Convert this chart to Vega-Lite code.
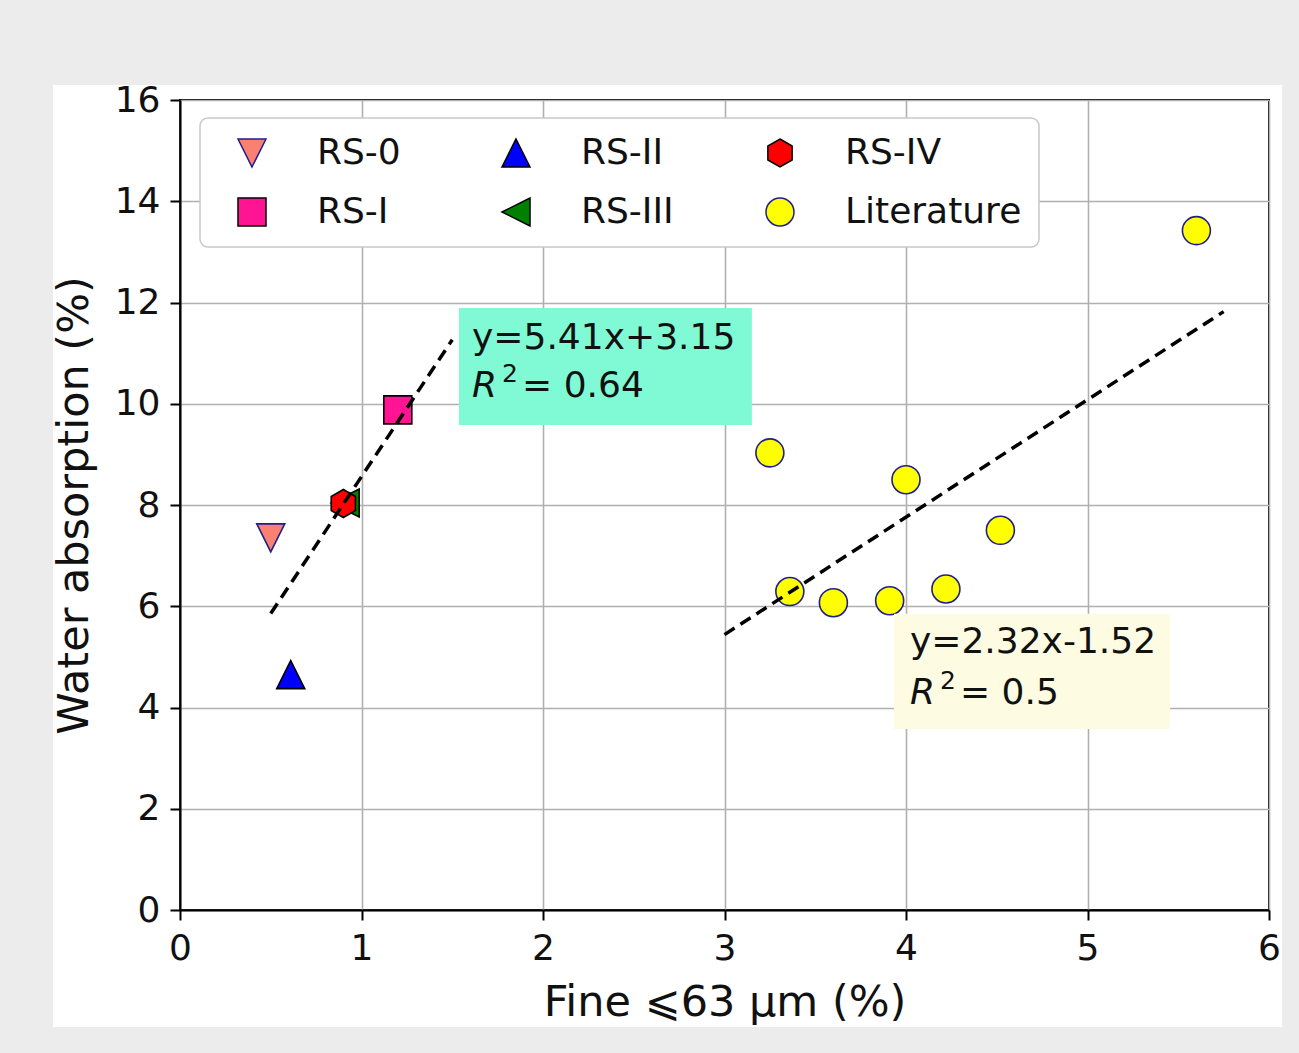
{
  "$schema": "https://vega.github.io/schema/vega-lite/v6.json",
  "width": 1089,
  "height": 810,
  "autosize": {"type": "none"},
  "padding": {"left": 180, "top": 100, "right": 30, "bottom": 143},
  "background": "white",
  "config": {
    "font": "DejaVu Sans",
    "view": {"stroke": "black", "strokeWidth": 2},
    "axis": {
      "grid": true, "gridColor": "#b0b0b0", "gridWidth": 1.6, "gridOpacity": 1,
      "domainColor": "black", "domainWidth": 2,
      "tickColor": "black", "tickWidth": 2, "tickSize": 10,
      "labelFontSize": 36, "labelColor": "#111111", "labelFlush": false,
      "titleFontSize": 43, "titleFontWeight": "normal", "titleColor": "#111111"
    },
    "axisX": {"labelPadding": 11, "titlePadding": 15},
    "axisY": {"labelPadding": 10, "titlePadding": 18},
    "legend": {
      "orient": "none", "legendX": 20, "legendY": 18,
      "columns": 3, "gridAlign": "all",
      "labelFontSize": 36, "labelColor": "#111111", "labelOffset": 47, "labelLimit": 400,
      "columnPadding": 4, "rowPadding": 23, "padding": 17,
      "fillColor": "white", "strokeColor": "#c8c8c8", "cornerRadius": 8, "strokeWidth": 1.5,
      "symbolStrokeWidth": 1.5, "symbolOpacity": 1,
      "titleOrient": "left", "titlePadding": 17, "titleFontSize": 1
    }
  },
  "datasets": {
    "points": [
      {"series": "RS-0", "x": 0.50, "y": 7.35},
      {"series": "RS-I", "x": 1.20, "y": 9.88},
      {"series": "RS-II", "x": 0.61, "y": 4.65},
      {"series": "RS-III", "x": 0.91, "y": 8.04},
      {"series": "RS-IV", "x": 0.90, "y": 8.03},
      {"series": "Literature", "x": 3.25, "y": 9.03},
      {"series": "Literature", "x": 4.00, "y": 8.50},
      {"series": "Literature", "x": 4.52, "y": 7.50},
      {"series": "Literature", "x": 3.36, "y": 6.29},
      {"series": "Literature", "x": 3.60, "y": 6.07},
      {"series": "Literature", "x": 3.91, "y": 6.11},
      {"series": "Literature", "x": 4.22, "y": 6.34},
      {"series": "Literature", "x": 5.60, "y": 13.42}
    ],
    "fits": [
      {"fit": "RS", "x": 0.5, "y": 5.855},
      {"fit": "RS", "x": 1.5, "y": 11.265},
      {"fit": "Literature", "x": 3.0, "y": 5.44},
      {"fit": "Literature", "x": 5.75, "y": 11.82}
    ],
    "frame": [{"piece": "border"}]
  },
  "layer": [
    {
      "data": {"name": "points"},
      "mark": {"type": "point", "filled": true, "opacity": 1, "strokeWidth": 1.6},
      "encoding": {
        "x": {
          "field": "x", "type": "quantitative",
          "scale": {"domain": [0, 6], "nice": false, "zero": false},
          "axis": {"values": [0, 1, 2, 3, 4, 5, 6], "format": "d", "title": "Fine ⩽63 μm (%)"}
        },
        "y": {
          "field": "y", "type": "quantitative",
          "scale": {"domain": [0, 16], "nice": false, "zero": false},
          "axis": {"values": [0, 2, 4, 6, 8, 10, 12, 14, 16], "format": "d", "title": "Water absorption (%)"}
        },
        "fill": {
          "field": "series", "type": "nominal", "title": " ",
          "scale": {
            "domain": ["RS-0", "RS-I", "RS-II", "RS-III", "RS-IV", "Literature"],
            "range": ["#fa8072", "#ff1493", "#0000ff", "#008000", "#ff0000", "#ffff00"]
          }
        },
        "stroke": {
          "field": "series", "type": "nominal", "title": " ",
          "scale": {
            "domain": ["RS-0", "RS-I", "RS-II", "RS-III", "RS-IV", "Literature"],
            "range": ["#1f1f8c", "#000000", "#000000", "#000000", "#000000", "#1f1f8c"]
          }
        },
        "shape": {
          "field": "series", "type": "nominal", "title": " ",
          "scale": {
            "domain": ["RS-0", "RS-I", "RS-II", "RS-III", "RS-IV", "Literature"],
            "range": ["M0,1L1,-1L-1,-1Z", "square", "M0,-1L1,1L-1,1Z", "M-1,0L1,-1L1,1Z", "M0,-1L0.866,-0.5L0.866,0.5L0,1L-0.866,0.5L-0.866,-0.5Z", "circle"]
          }
        },
        "size": {
          "field": "series", "type": "nominal", "title": " ",
          "scale": {
            "domain": ["RS-0", "RS-I", "RS-II", "RS-III", "RS-IV", "Literature"],
            "range": [784, 784, 784, 784, 729, 529]
          }
        }
      }
    },
    {
      "data": {"name": "fits"},
      "mark": {"type": "line", "color": "black", "strokeWidth": 3.5, "strokeDash": [12, 7]},
      "encoding": {
        "x": {"field": "x", "type": "quantitative"},
        "y": {"field": "y", "type": "quantitative"},
        "detail": {"field": "fit", "type": "nominal"}
      }
    },
    {
      "data": {"values": [{"x0": 1.537, "x1": 3.151, "y0": 9.58, "y1": 11.89}]},
      "mark": {"type": "rect", "fill": "#7ffad4", "clip": false},
      "encoding": {
        "x": {"field": "x0", "type": "quantitative"},
        "x2": {"field": "x1"},
        "y": {"field": "y0", "type": "quantitative"},
        "y2": {"field": "y1"}
      }
    },
    {
      "data": {"values": [{"x0": 3.934, "x1": 5.455, "y0": 3.575, "y1": 5.85}]},
      "mark": {"type": "rect", "fill": "#fdfce3", "clip": false},
      "encoding": {
        "x": {"field": "x0", "type": "quantitative"},
        "x2": {"field": "x1"},
        "y": {"field": "y0", "type": "quantitative"},
        "y2": {"field": "y1"}
      }
    },
    {
      "data": {"values": [
        {"label": "y=5.41x+3.15", "x": 1.609, "y": 11.30},
        {"label": "y=2.32x-1.52", "x": 4.022, "y": 5.30}
      ]},
      "mark": {"type": "text", "align": "left", "baseline": "middle", "fontSize": 36, "color": "#111111"},
      "encoding": {
        "x": {"field": "x", "type": "quantitative"},
        "y": {"field": "y", "type": "quantitative"},
        "text": {"field": "label"}
      }
    },
    {
      "data": {"values": [
        {"label": "R", "x": 1.609, "y": 10.35},
        {"label": "R", "x": 4.022, "y": 4.29}
      ]},
      "mark": {"type": "text", "align": "left", "baseline": "middle", "fontSize": 36, "fontStyle": "italic", "color": "#111111"},
      "encoding": {
        "x": {"field": "x", "type": "quantitative"},
        "y": {"field": "y", "type": "quantitative"},
        "text": {"field": "label"}
      }
    },
    {
      "data": {"values": [
        {"label": "2", "x": 1.609, "y": 10.35},
        {"label": "2", "x": 4.022, "y": 4.29}
      ]},
      "mark": {"type": "text", "align": "left", "baseline": "middle", "fontSize": 25, "dx": 30, "dy": -12, "color": "#111111"},
      "encoding": {
        "x": {"field": "x", "type": "quantitative"},
        "y": {"field": "y", "type": "quantitative"},
        "text": {"field": "label"}
      }
    },
    {
      "data": {"values": [
        {"label": "= 0.64", "x": 1.609, "y": 10.35},
        {"label": "= 0.5", "x": 4.022, "y": 4.29}
      ]},
      "mark": {"type": "text", "align": "left", "baseline": "middle", "fontSize": 36, "dx": 50, "color": "#111111"},
      "encoding": {
        "x": {"field": "x", "type": "quantitative"},
        "y": {"field": "y", "type": "quantitative"},
        "text": {"field": "label"}
      }
    },
    {
      "data": {"name": "frame"},
      "mark": {"type": "rect", "fill": "#ececec", "clip": false},
      "encoding": {"x": {"datum": -1.5}, "x2": {"datum": -0.6997}, "y": {"datum": -5}, "y2": {"datum": 20}}
    },
    {
      "data": {"name": "frame"},
      "mark": {"type": "rect", "fill": "#ececec", "clip": false},
      "encoding": {"x": {"datum": 6.0716}, "x2": {"datum": 7}, "y": {"datum": -5}, "y2": {"datum": 20}}
    },
    {
      "data": {"name": "frame"},
      "mark": {"type": "rect", "fill": "#ececec", "clip": false},
      "encoding": {"x": {"datum": -1.5}, "x2": {"datum": 7}, "y": {"datum": 16.2963}, "y2": {"datum": 20}}
    },
    {
      "data": {"name": "frame"},
      "mark": {"type": "rect", "fill": "#ececec", "clip": false},
      "encoding": {"x": {"datum": -1.5}, "x2": {"datum": 7}, "y": {"datum": -5}, "y2": {"datum": -2.3111}}
    }
  ]
}
